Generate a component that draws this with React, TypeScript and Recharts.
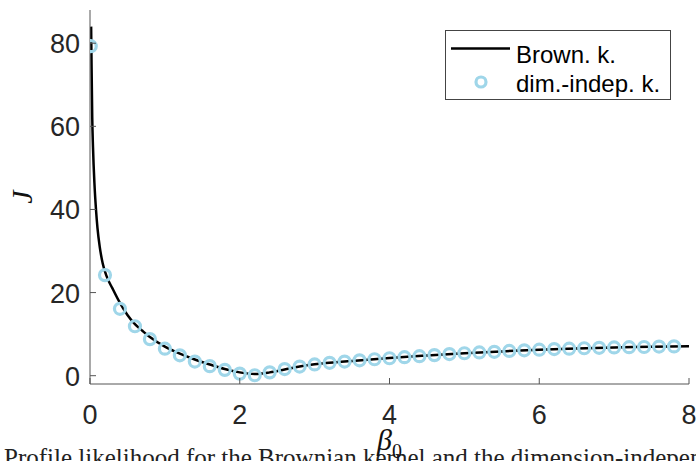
import { ComposedChart, Legend, Line, Scatter, XAxis, YAxis } from "recharts";

// Brownian kernel profile (solid line)
const lineBeta = [0.015, 0.02, 0.03, 0.04, 0.06, 0.08, 0.1, 0.13, 0.17, 0.22, 0.3, 0.4, 0.5, 0.6, 0.7, 0.8, 1.0, 1.2, 1.4, 1.6, 1.8, 2.0, 2.2, 2.4, 2.6, 2.8, 3.0, 3.5, 4.0, 4.5, 5.0, 5.5, 6.0, 6.5, 7.0, 7.5, 8.0];
const lineJ = [84, 76, 62, 55, 46, 40, 35.5, 31, 27, 24, 21, 17.5, 14.6, 12.4, 10.8, 9.3, 7.0, 5.3, 3.9, 2.7, 1.6, 0.8, 0.4, 0.8, 1.5, 2.2, 2.75, 3.55, 4.25, 4.85, 5.4, 5.85, 6.25, 6.55, 6.8, 6.95, 7.1];

// dimension-independent kernel profile (circles)
const circleBeta = [0.01, 0.2, 0.4, 0.6, 0.8, 1.0, 1.2, 1.4, 1.6, 1.8, 2.0, 2.2, 2.4, 2.6, 2.8, 3.0, 3.2, 3.4, 3.6, 3.8, 4.0, 4.2, 4.4, 4.6, 4.8, 5.0, 5.2, 5.4, 5.6, 5.8, 6.0, 6.2, 6.4, 6.6, 6.8, 7.0, 7.2, 7.4, 7.6, 7.8];
const circleJ = [79.3, 24.2, 16.1, 11.9, 8.8, 6.5, 4.9, 3.4, 2.3, 1.4, 0.5, 0.1, 0.8, 1.6, 2.2, 2.7, 3.1, 3.4, 3.7, 3.95, 4.2, 4.45, 4.7, 4.95, 5.2, 5.4, 5.6, 5.75, 5.95, 6.1, 6.25, 6.4, 6.5, 6.6, 6.7, 6.8, 6.85, 6.9, 7.0, 7.05];

const xTicks = [0, 2, 4, 6, 8];
const yTicks = [0, 20, 40, 60, 80];

const seriesNames = ["Brown. k.", "dim.-indep. k."];
const caption = "Profile likelihood for the Brownian kernel and the dimension-independent kernel";

const AXIS = "#555";
const INK = "#262626";
const BLUE = "#9fd6e9";
const SANS = "'Liberation Sans', Arial, sans-serif";
const SERIF = "'Liberation Serif', 'Times New Roman', serif";
const TICK = 6;

const lineData = lineBeta.map((x, i) => ({ x, y: lineJ[i] }));
const circleData = circleBeta.map((x, i) => ({ x, y: circleJ[i] }));

function BottomTick({ x, y, payload }: any) {
  return (
    <g>
      <line x1={x} y1={y} x2={x} y2={y - TICK} stroke={AXIS} />
      <text x={x} y={y + 40} textAnchor="middle" fill={INK} fontSize={27} fontFamily={SANS}>{payload.value}</text>
    </g>
  );
}

function LeftTick({ x, y, payload }: any) {
  return (
    <g>
      <line x1={x} y1={y} x2={x + TICK} y2={y} stroke={AXIS} />
      <text x={x - 10} y={y + 10} textAnchor="end" fill={INK} fontSize={27} fontFamily={SANS}>{payload.value}</text>
    </g>
  );
}

function TopTick({ x, y }: any) {
  return <line x1={x} y1={y} x2={x} y2={y + TICK} stroke={AXIS} />;
}

function RightTick({ x, y }: any) {
  return <line x1={x} y1={y} x2={x - TICK} y2={y} stroke={AXIS} />;
}

function Ring({ cx, cy }: any) {
  return <circle cx={cx} cy={cy} r={5.5} fill="none" stroke={BLUE} strokeWidth={3.2} />;
}

function XLabel({ viewBox }: any) {
  const cx = viewBox.x + viewBox.width / 2;
  return (
    <g>
      <text x={4} y={466} fill="#222" fontSize={25} fontFamily={SERIF}>{caption}</text>
      <text x={cx} y={450} textAnchor="middle" fill="#111" fontFamily={SERIF}>
        <tspan fontSize={30} fontStyle="italic">β</tspan>
        <tspan fontSize={20} dy={8}>0</tspan>
      </text>
    </g>
  );
}

function YLabel({ viewBox }: any) {
  const cy = viewBox.y + viewBox.height / 2;
  return (
    <text x={32} y={cy} transform={`rotate(-90 32 ${cy})`} textAnchor="middle" fill="#111" fontSize={30} fontStyle="italic" fontFamily={SERIF}>J</text>
  );
}

function LegendBox() {
  return (
    <svg width={227} height={71} style={{ display: "block" }}>
      <rect x={0.5} y={0.5} width={225} height={69} fill="#fff" stroke="#444" />
      <line x1={6} y1={18.5} x2={65} y2={18.5} stroke="#000" strokeWidth={2.5} />
      <text x={71} y={33} fontSize={24} fontFamily={SANS} fill="#000">{seriesNames[0]}</text>
      <circle cx={36} cy={52} r={5} fill="none" stroke={BLUE} strokeWidth={3.2} />
      <text x={71} y={62} fontSize={24} fontFamily={SANS} fill="#000">{seriesNames[1]}</text>
    </svg>
  );
}

export default function App() {
  return (
    <div style={{ position: "absolute", left: 0, top: 0, background: "#fff" }}>
      <ComposedChart width={696} height={461} margin={{ top: 10, right: 7, bottom: 0, left: 0 }}>
        <XAxis dataKey="x" type="number" domain={[0, 8]} ticks={xTicks} interval={0} allowDataOverflow height={77}
          axisLine={{ stroke: AXIS }} tickLine={false} tickSize={0} tickMargin={0} tick={<BottomTick />} label={<XLabel />} />
        <XAxis xAxisId="top" orientation="top" dataKey="x" type="number" domain={[0, 8]} ticks={xTicks} interval={0} height={0}
          axisLine={{ stroke: AXIS }} tickLine={false} tickSize={0} tickMargin={0} tick={<TopTick />} />
        <YAxis dataKey="y" type="number" domain={[-2, 88]} ticks={yTicks} interval={0} allowDataOverflow width={90}
          axisLine={{ stroke: AXIS }} tickLine={false} tickSize={0} tickMargin={0} tick={<LeftTick />} label={<YLabel />} />
        <YAxis yAxisId="right" orientation="right" dataKey="y" type="number" domain={[-2, 88]} ticks={yTicks} interval={0} width={0}
          axisLine={{ stroke: AXIS }} tickLine={false} tickSize={0} tickMargin={0} tick={<RightTick />} />
        <Line data={lineData} dataKey="y" type="monotone" stroke="#000" strokeWidth={2.5} dot={false} activeDot={false} isAnimationActive={false} />
        <Scatter data={circleData} dataKey="y" shape={<Ring />} isAnimationActive={false} />
        <Legend layout="vertical" align="center" verticalAlign="middle" content={<LegendBox />}
          wrapperStyle={{ left: 445, top: 30, width: 227, height: 71 }} />
      </ComposedChart>
    </div>
  );
}
